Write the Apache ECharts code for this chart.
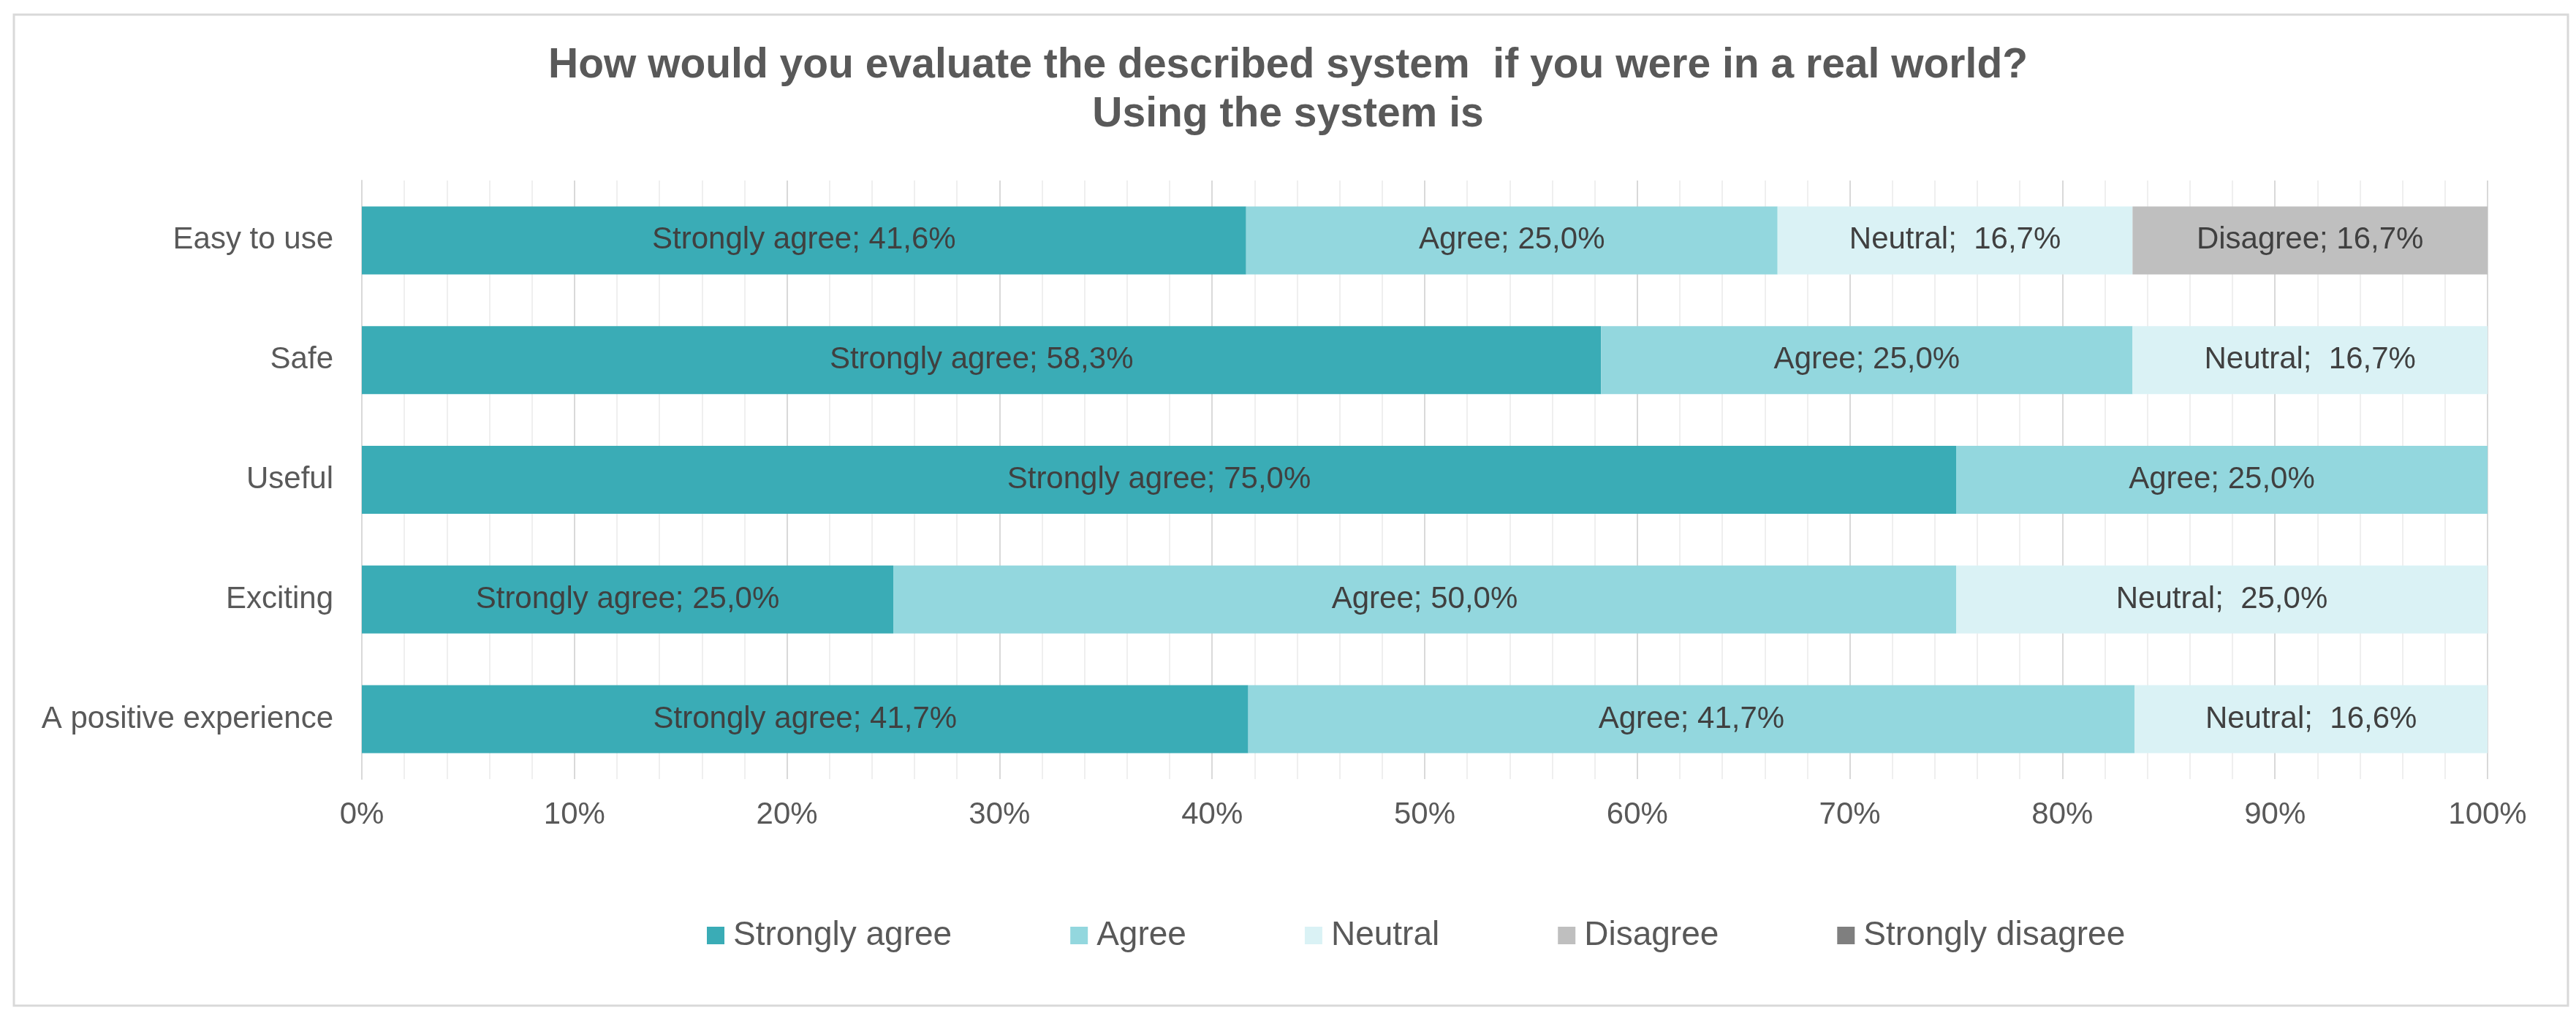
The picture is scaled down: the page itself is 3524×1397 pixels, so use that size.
<!DOCTYPE html>
<html>
<head>
<meta charset="utf-8">
<script src="https://cdn.jsdelivr.net/npm/echarts@6/dist/echarts.min.js"></script>
<style>
html,body{margin:0;padding:0;background:#fff;}
#c{width:3524px;height:1397px;}
</style>
</head>
<body>
<div id="c"></div>
<script>
const categories = ["Easy to use", "Safe", "Useful", "Exciting", "A positive experience"];
const seriesNames = ["Strongly agree", "Agree", "Neutral", "Disagree", "Strongly disagree"];
const stronglyAgree = [41.6, 58.3, 75.0, 25.0, 41.7];
const agree = [25.0, 25.0, 25.0, 50.0, 41.7];
const neutral = [16.7, 16.7, 0, 25.0, 16.6];
const disagree = [16.7, 0, 0, 0, 0];
const stronglyDisagree = [0, 0, 0, 0, 0];
const xTicks = [0, 10, 20, 30, 40, 50, 60, 70, 80, 90, 100];
const colors = ["#3AACB6", "#93D7DE", "#DAF2F5", "#BFBFBF", "#7F7F7F"];
const values = [stronglyAgree, agree, neutral, disagree, stronglyDisagree];

const FONT = "'Liberation Sans', Arial, sans-serif";
const chart = echarts.init(document.getElementById('c'));

const series = seriesNames.map((name, i) => ({
  name: name,
  type: 'bar',
  stack: 'total',
  barWidth: 93,
  data: values[i],
  itemStyle: { color: colors[i] },
  label: {
    show: true,
    position: 'inside',
    color: '#404040',
    fontFamily: FONT,
    fontSize: 42,
    formatter: function (p) {
      if (!p.value) return '';
      const sep = name === 'Neutral' ? ';  ' : '; ';
      return name + sep + p.value.toFixed(1).replace('.', ',') + '%';
    }
  },
  emphasis: { disabled: true }
}));

chart.setOption({
  backgroundColor: '#ffffff',
  animation: false,
  title: {
    text: 'How would you evaluate the described system  if you were in a real world?\nUsing the system is',
    left: 'center',
    top: 57,
    padding: 0,
    textStyle: {
      fontFamily: FONT,
      fontWeight: 'bold',
      fontSize: 57,
      lineHeight: 67,
      color: '#595959'
    }
  },
  legend: {
    data: seriesNames,
    left: 967,
    top: 1257,
    padding: 0,
    icon: 'rect',
    itemWidth: 24,
    itemHeight: 24,
    itemGap: 162,
    textStyle: { fontFamily: FONT, fontSize: 46, color: '#595959', padding: [0, 0, 0, 7] }
  },
  grid: { left: 495, right: 121, top: 247, bottom: 331, containLabel: false },
  xAxis: {
    type: 'value',
    min: 0,
    max: 100,
    interval: 10,
    axisLine: { show: false },
    axisTick: { show: false },
    axisLabel: {
      fontFamily: FONT,
      fontSize: 42,
      color: '#595959',
      margin: 28,
      formatter: function (v) { return xTicks.indexOf(v) >= 0 ? v + '%' : ''; }
    },
    splitLine: { show: true, lineStyle: { color: '#D9D9D9', width: 2 } },
    minorTick: { show: false, splitNumber: 5 },
    minorSplitLine: { show: true, lineStyle: { color: '#EFEFEF', width: 2 } }
  },
  yAxis: {
    type: 'category',
    data: categories,
    inverse: true,
    axisLine: { show: true, lineStyle: { color: '#D9D9D9', width: 2 } },
    axisTick: { show: false },
    axisLabel: {
      fontFamily: FONT,
      fontSize: 42,
      color: '#595959',
      margin: 39
    },
    splitLine: { show: false }
  },
  graphic: [{
    type: 'rect',
    shape: { x: 19, y: 20, width: 3494, height: 1356 },
    style: { fill: 'none', stroke: '#D9D9D9', lineWidth: 3 },
    silent: true,
    z: -1
  }],
  series: series
});
</script>
</body>
</html>
